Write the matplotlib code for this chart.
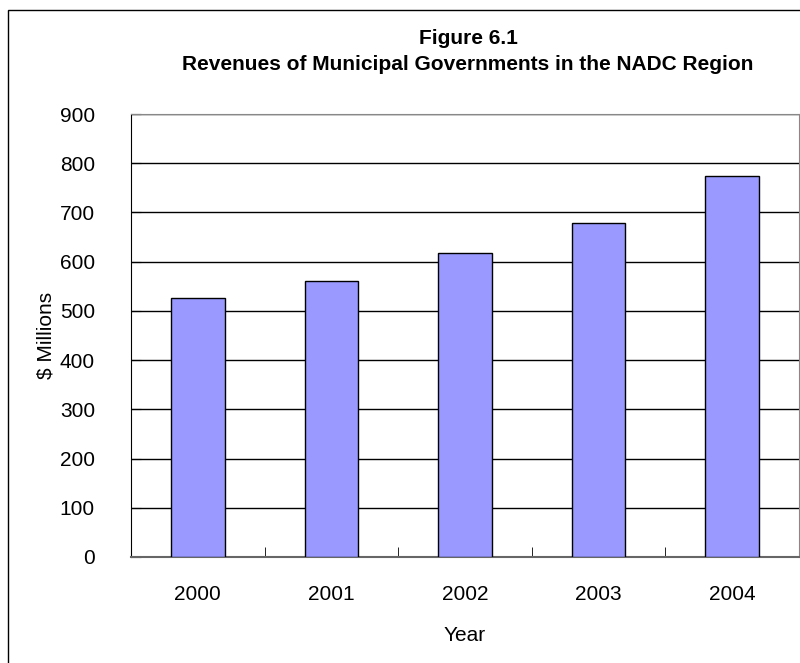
import matplotlib
matplotlib.use("Agg")
import matplotlib.pyplot as plt
from matplotlib.patches import Rectangle

plt.rcParams['font.family'] = ['Liberation Sans', 'DejaVu Sans']

YEARS = ["2000", "2001", "2002", "2003", "2004"]
REVENUE = [527, 560, 617, 678, 774]
Y_TICKS = [0, 100, 200, 300, 400, 500, 600, 700, 800, 900]

W, H = 800, 663
fig = plt.figure(figsize=(W / 100, H / 100), dpi=100)

# outer chart frame (runs off the right/bottom edge like the source)
fig.patches.append(Rectangle((8 / W, -0.01), 1.0, 1 - 10 / H + 0.01,
                             transform=fig.transFigure, fill=False,
                             edgecolor="black", lw=1.0))

ax = fig.add_axes([131 / W, 1 - 557 / H, 668 / W, (557 - 114) / H])
x = range(len(YEARS))
ax.bar(x, REVENUE, width=0.4, color="#9999FF", edgecolor="black", lw=1.0, zorder=3)

ax.set_xlim(-0.5, len(YEARS) - 0.5)
ax.set_ylim(0, 900)
ax.set_yticks(Y_TICKS)
ax.set_yticklabels([str(v) for v in Y_TICKS], fontsize=15)
ax.yaxis.grid(True, color="black", lw=1.0, zorder=0)
ax.set_xticks(list(x))
ax.set_xticklabels(YEARS, fontsize=15)
ax.tick_params(axis="x", length=0, pad=20)
ax.set_xticks([i + 0.5 for i in range(len(YEARS) - 1)], minor=True)
ax.tick_params(axis="x", which="minor", direction="in", length=7, color="black")
ax.tick_params(axis="y", length=7, direction="in", pad=26)

ax.spines["top"].set_color("#888888")
ax.spines["right"].set_color("#888888")
ax.spines["bottom"].set_color("#666666")
ax.spines["bottom"].set_linewidth(1.5)
ax.spines["left"].set_color("black")

ax.set_ylabel("$ Millions", fontsize=15, labelpad=3)
ax.set_xlabel("Year", fontsize=15, labelpad=16)

fig.text(0.585, 1 - 39 / H, "Figure 6.1", ha="center", va="center",
         fontsize=15, fontweight="bold")
fig.text(0.585, 1 - 64 / H, "Revenues of Municipal Governments in the NADC Region",
         ha="center", va="center", fontsize=15, fontweight="bold")

fig.savefig("out.png", dpi=100)
